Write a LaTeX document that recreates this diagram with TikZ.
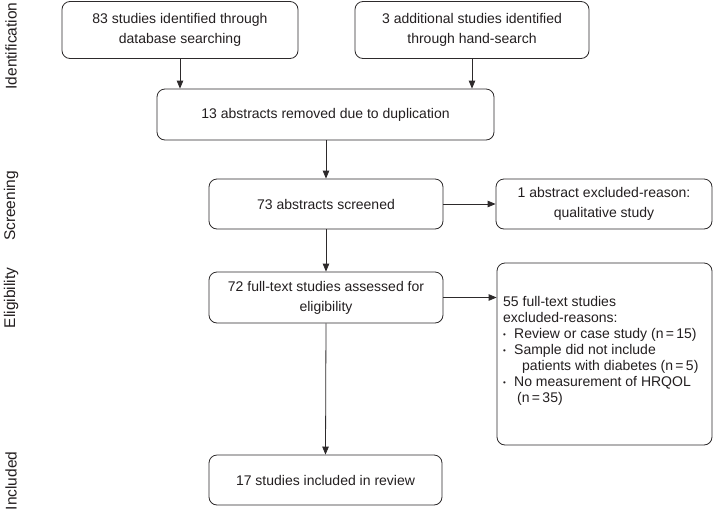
\documentclass[tikz,border=0pt]{standalone}
\usepackage{fontspec}
\setmainfont{Liberation Sans}
\usetikzlibrary{arrows.meta}
\definecolor{linec}{RGB}{45,42,43}
\definecolor{textc}{RGB}{35,31,32}
\begin{document}
\begin{tikzpicture}[x=1pt,y=-1pt,
  box/.style={draw=linec, line width=0.8pt, rounded corners=8pt, align=center,
    text=textc, font=\fontsize{14}{20}\selectfont, inner sep=0pt},
  arr/.style={draw=linec, line width=0.8pt, -{Triangle[length=8pt,width=6.5pt]}},
  side/.style={rotate=90, text=textc, font=\fontsize{15.5}{18}\selectfont, anchor=center, inner sep=0pt}]
\useasboundingbox (0,0) rectangle (713,512);
\fill[white] (0,0) rectangle (713,512);
% side labels
\node[side] (L1) at (11,46) {Identification};
\node[side] (L2) at (11,206) {Screening};
\node[side] (L3) at (11,298) {Eligibility};
\node[side] (L4) at (11,481) {Included};
% boxes
\node[box, minimum width=236pt, minimum height=57pt] (A) at (180,30) {83 studies identified through\\database searching};
\node[box, minimum width=234pt, minimum height=57pt] (B) at (472,30) {3 additional studies identified\\through hand-search};
\node[box, minimum width=337pt, minimum height=51pt] (C) at (325.5,114.5) {13 abstracts removed due to duplication};
\node[box, minimum width=234pt, minimum height=50pt] (D) at (326,204) {73 abstracts screened};
\node[box, minimum width=216pt, minimum height=50pt] (E) at (604,204) {1 abstract excluded-reason:\\qualitative study};
\node[box, minimum width=234pt, minimum height=51pt] (F) at (326,297.5) {72 full-text studies assessed for\\eligibility};
\node[box, minimum width=215pt, minimum height=182pt] (G) at (604.5,354) {};
\node[box, minimum width=233pt, minimum height=50pt] (H) at (325.5,480) {17 studies included in review};
% text of G
\node[anchor=north west, align=left, inner sep=0pt, text=textc,
  font=\fontsize{14}{16}\selectfont] (Gt) at (503,296) {55 full-text studies\\
excluded-reasons:\\
\makebox[11pt][l]{\raisebox{0.5pt}{\footnotesize\textbullet}}Review or case study (n\,=\,15)\\
\makebox[11pt][l]{\raisebox{0.5pt}{\footnotesize\textbullet}}Sample did not include\\
\hspace*{19pt}patients with diabetes (n\,=\,5)\\
\makebox[11pt][l]{\raisebox{0.5pt}{\footnotesize\textbullet}}No measurement of HRQOL\\
\hspace*{14pt}(n\,=\,35)};
% arrows
\draw[arr] (A.south) -- (A.south |- C.north);
\draw[arr] (B.south) -- (B.south |- C.north);
\draw[arr] (C.south -| D.north) -- (D.north);
\draw[arr] (D.east) -- (E.west);
\draw[arr] (D.south) -- (F.north);
\draw[arr] (F.east) -- (F.east -| G.west);
\draw[arr] (F.south) -- (H.north);
\end{tikzpicture}
\end{document}
